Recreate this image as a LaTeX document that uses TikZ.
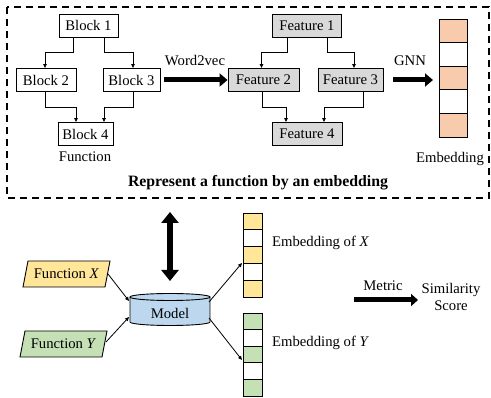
\documentclass[tikz,border=0pt]{standalone}
\usepackage{fontspec}
\setmainfont{Liberation Serif}
\usetikzlibrary{arrows.meta}
\definecolor{grayf}{HTML}{D9D9D9}
\definecolor{orangef}{HTML}{F8CBAD}
\definecolor{yellowf}{HTML}{FFE699}
\definecolor{greenf}{HTML}{C5E0B4}
\definecolor{bluef}{HTML}{BDD7EE}
\tikzset{
  blk/.style={draw, line width=0.9pt, minimum height=23pt, inner sep=1pt, font=\fontsize{14.7}{16}\selectfont},
  feat/.style={blk, fill=grayf},
  conn/.style={line width=0.8pt, -{Triangle[length=4pt,width=3.5pt]}},
  bigarrow/.style={line width=5pt, -{Triangle[length=8pt,width=13pt]}},
  lbl/.style={font=\fontsize{14.7}{16}\selectfont, inner sep=0pt},
  cell/.style={draw, line width=0.9pt}
}
\begin{document}
\begin{tikzpicture}[x=1pt,y=-1pt]
\useasboundingbox (0,0) rectangle (491,398);
% dashed frame
\draw[line width=2pt, dash pattern=on 7pt off 5pt] (7,7) rectangle (489,198);

% blocks
\node[blk, minimum width=59pt] (b1) at (88.5,25.5) {Block 1};
\node[blk, minimum width=60pt] (b2) at (46,80) {Block 2};
\node[blk, minimum width=57pt] (b3) at (131.5,80) {Block 3};
\node[blk, minimum width=55pt] (b4) at (85.5,134) {Block 4};
\node[lbl] (fn) at (85,157) {Function};
\draw[conn] (b1.south -| 73,0) |- (45,52) -- (b2.north -| 45,0);
\draw[conn] (b1.south -| 104,0) |- (133,52) -- (b3.north -| 133,0);
\draw[conn] (b2.south -| 45,0) |- (76,107) -- (b4.north -| 76,0);
\draw[conn] (b3.south -| 133,0) |- (104,107) -- (b4.north -| 104,0);

% features
\node[feat, minimum width=69pt] (f1) at (307,25.5) {Feature 1};
\node[feat, minimum width=71pt] (f2) at (263.5,80) {Feature 2};
\node[feat, minimum width=65pt] (f3) at (350.5,80) {Feature 3};
\node[feat, minimum width=70pt] (f4) at (307,134) {Feature 4};
\draw[conn] (f1.south -| 287.5,0) |- (261.5,52) -- (f2.north -| 261.5,0);
\draw[conn] (f1.south -| 327,0) |- (354,52) -- (f3.north -| 354,0);
\draw[conn] (f2.south -| 262,0) |- (286,107) -- (f4.north -| 286,0);
\draw[conn] (f3.south -| 363,0) |- (324,107) -- (f4.north -| 324,0);

% word2vec arrow
\draw[bigarrow] (b3.east) ++(4,0) coordinate (w1) -- (f2.west);
\node[lbl] (w2v) at (195,61) {Word2vec};

% embedding
\foreach \i/\c in {0/orangef,1/white,2/orangef,3/white,4/orangef}{
  \draw[cell, fill=\c] (439,19+23.6*\i) rectangle (467,19+23.6*\i+23.6);
}
\node[inner sep=0pt, minimum width=28pt, minimum height=118pt] (emb) at (453,78) {};
\node[lbl] (embl) at (450,159) {Embedding};
\draw[bigarrow] (f3.east) ++(10,0) coordinate (g1) -- (433,80) coordinate (g2);
\node[lbl] (gnn) at (410,61) {GNN};

\node[font=\fontsize{15.8}{18}\selectfont\bfseries, inner sep=0pt] (title) at (258,183) {Represent a function by an embedding};

% double arrow
\coordinate (da1) at (170,212);
\coordinate (da2) at (170,281);
\draw[line width=6pt, {Triangle[length=11pt,width=17pt]}-{Triangle[length=11pt,width=17pt]}] (da1) -- (da2);

% function X / Y
\draw[line width=0.9pt, fill=yellowf] (23,287) -- (28,261) -- (110,261) -- (105,287) -- cycle;
\node[lbl] (fx) at (66.5,274) {Function \textit{X}};
\draw[line width=0.9pt, fill=greenf] (20,357) -- (25,331) -- (107,331) -- (102,357) -- cycle;
\node[lbl] (fy) at (63.5,344) {Function \textit{Y}};

% model cylinder
\fill[bluef] (130,297) rectangle (210,322);
\fill[bluef] (170,322) ellipse [x radius=40pt, y radius=3.5pt];
\draw[line width=0.9pt] (130,297) -- (130,322) arc[start angle=180, end angle=360, x radius=40pt, y radius=3.5pt] -- (210,297);
\draw[line width=0.9pt, fill=bluef] (170,297) ellipse [x radius=40pt, y radius=3.5pt];
\node[lbl] (model) at (170,313) {Model};

\coordinate (fxe) at (108,274);
\coordinate (fye) at (106,342);
\coordinate (mi1) at (129,301);
\coordinate (mi2) at (129,317);
\coordinate (mo1) at (209,302);
\coordinate (mo2) at (209,318);
\coordinate (ex) at (242,263);
\coordinate (ey) at (242,360);
\draw[conn] (fxe) -- (mi1);
\draw[conn] (fye) -- (mi2);
\draw[conn] (mo1) -- (ex);
\draw[conn] (mo2) -- (ey);

% embedding X / Y
\foreach \i/\c in {0/yellowf,1/white,2/yellowf,3/white,4/yellowf}{
  \draw[cell, fill=\c] (243,213+16.8*\i) rectangle (262,213+16.8*\i+16.8);
}
\foreach \i/\c in {0/greenf,1/white,2/greenf,3/white,4/greenf}{
  \draw[cell, fill=\c] (243,313+16.6*\i) rectangle (262,313+16.6*\i+16.6);
}
\node[lbl, anchor=west] (elx) at (272,243) {Embedding of \textit{X}};
\node[lbl, anchor=west] (ely) at (272,343) {Embedding of \textit{Y}};

% metric
\coordinate (m1) at (354,300);
\coordinate (m2) at (418,300);
\draw[line width=5pt, -{Triangle[length=7pt,width=12pt]}] (m1) -- (m2);
\node[lbl] (metric) at (383,286) {Metric};
\node[lbl, align=center, font=\fontsize{14.7}{17.5}\selectfont] (sim) at (451,297) {Similarity\\Score};
\end{tikzpicture}
\end{document}
